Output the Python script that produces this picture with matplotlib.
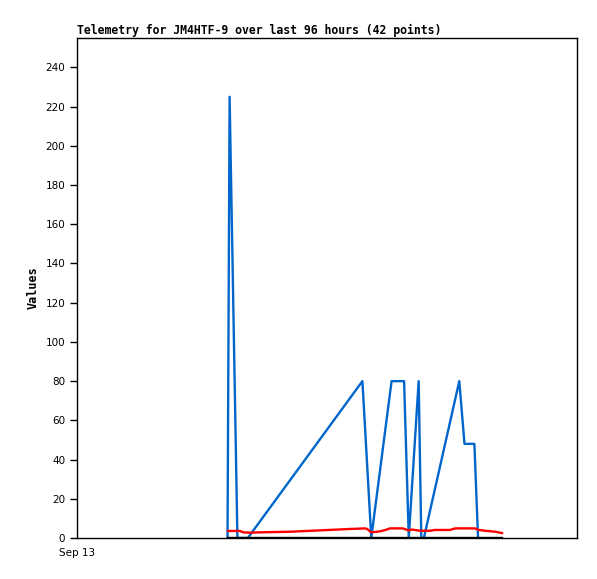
import matplotlib
matplotlib.use("Agg")
import matplotlib.pyplot as plt

# hours since Sep 13 00:00 (x axis spans 96 hours)
blue_hours = [28.9, 29.3, 30.8, 32.8, 54.8, 56.5, 60.4, 62.8, 63.7, 65.6,
              66.1, 66.6, 73.4, 74.4, 76.3, 77.0]
blue_vals = [0, 225, 0, 0, 80, 0, 80, 80, 0, 80,
             0, 0, 80, 48, 48, 0]

red_hours = [29.0, 31.3, 31.9, 33.2, 35.5, 40.9, 46.7, 52.4, 55.3, 55.7,
             56.5, 58.0, 59.1, 60.1, 62.6, 63.6, 64.3, 65.9, 67.8, 68.7,
             71.6, 72.6, 76.4, 77.2, 78.3, 80.3, 81.6]
red_vals = [3.6, 3.6, 2.9, 2.7, 2.9, 3.2, 3.9, 4.6, 4.9, 4.6,
            2.9, 3.3, 4.0, 4.9, 4.9, 3.9, 4.3, 3.7, 3.7, 4.1,
            4.1, 4.9, 4.9, 4.1, 3.7, 3.2, 2.5]

black_hours = [29.0, 81.6]
black_vals = [0, 0]

x_ticks = [0]
x_labels = ['Sep 13']
y_ticks = list(range(0, 241, 20))

fig = plt.figure(figsize=(5.97, 5.79), dpi=100)
ax = fig.add_axes([77 / 597, 41 / 579, 500 / 597, 500 / 579])

ax.plot(blue_hours, blue_vals, color='#0066cc', lw=1.7)
ax.plot(red_hours, red_vals, color='#ff0000', lw=1.7)
ax.plot(black_hours, black_vals, color='black', lw=1.7)

ax.set_xlim(0, 96)
ax.set_ylim(0, 255)
ax.set_xticks(x_ticks)
ax.set_xticklabels(x_labels, fontsize=7.5)
ax.set_yticks(y_ticks)
ax.set_yticklabels([str(v) for v in y_ticks], fontsize=7.5)
ax.tick_params(axis='x', length=0, pad=7)
ax.tick_params(axis='y', length=5, width=1, direction='out')
for s in ax.spines.values():
    s.set_linewidth(1)

ax.set_ylabel('Values', fontsize=8.5, fontweight='bold', family='DejaVu Sans Mono')
ax.set_title('Telemetry for JM4HTF-9 over last 96 hours (42 points)', loc='left',
             fontsize=8.3, fontweight='bold', family='DejaVu Sans Mono', pad=3)

plt.savefig('out.png', dpi=100)
